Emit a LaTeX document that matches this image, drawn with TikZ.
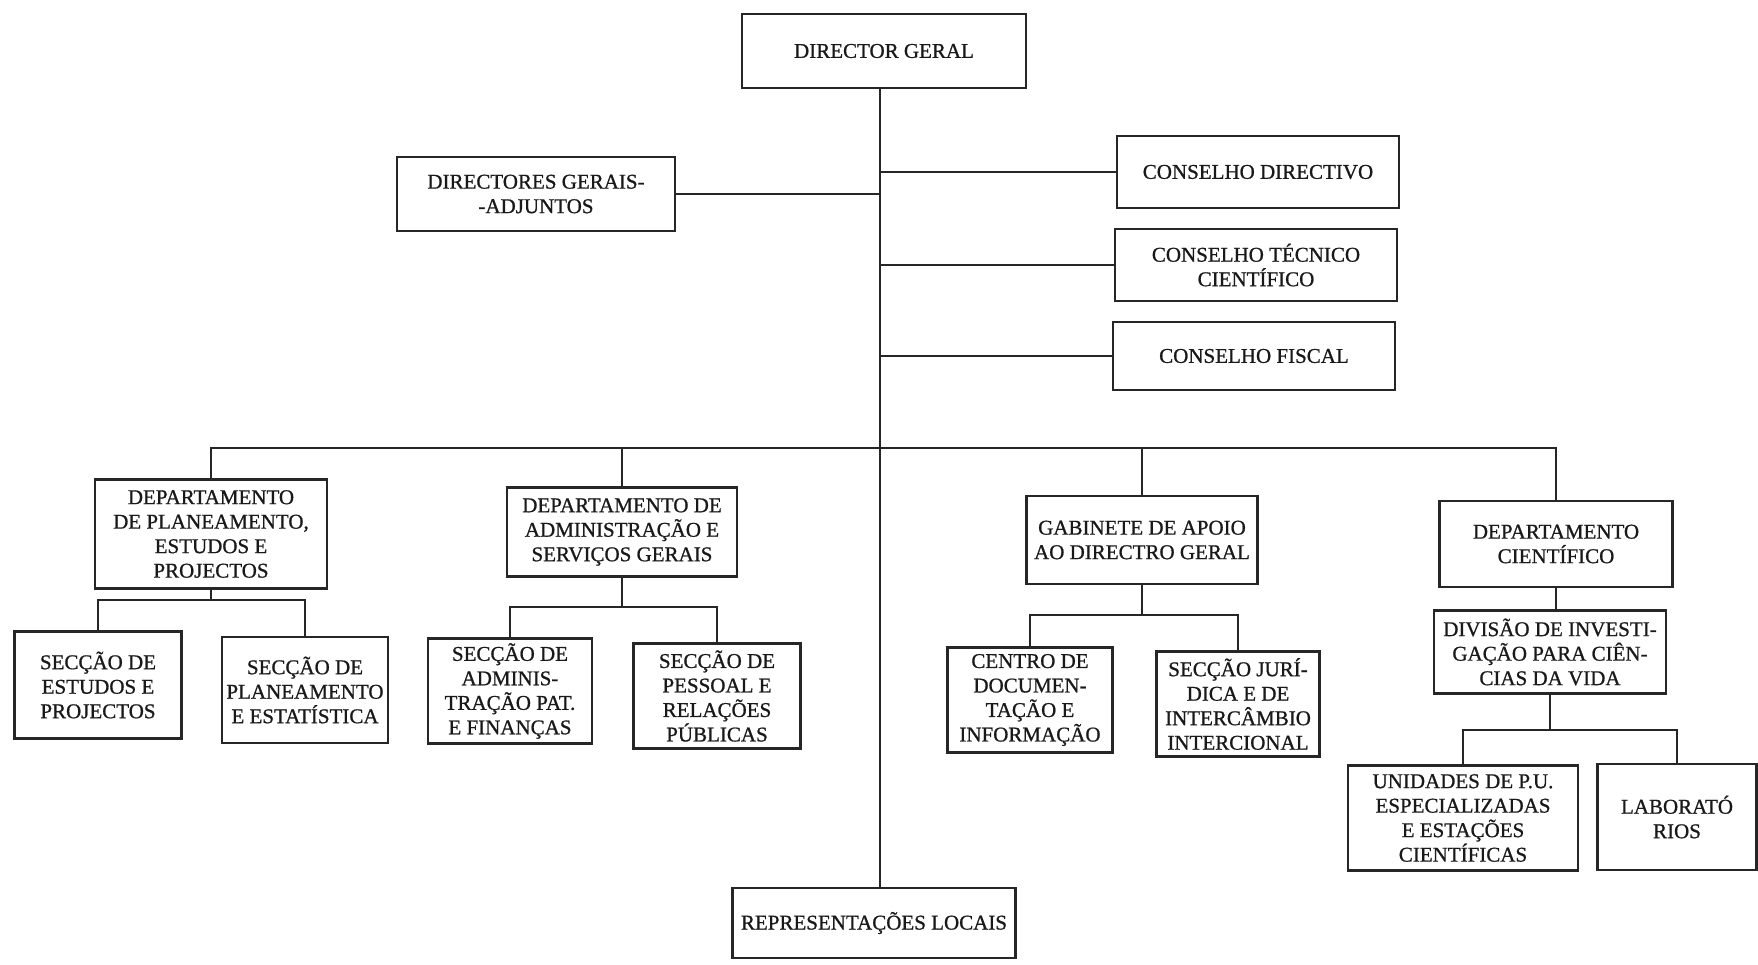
\documentclass[tikz,border=0pt]{standalone}
\usepackage{fontspec}
\setmainfont{Liberation Serif}
\newfontfamily\inkfont{Liberation Serif}[FakeBold=0.9]
\begin{document}
\begin{tikzpicture}[x=1pt,y=-1pt,
  box/.style={draw=black!85, line width=2.4pt, align=center, inner xsep=2pt, inner ysep=2pt,
    font=\inkfont\fontsize{21}{24.5}\selectfont, text=black!90},
  conn/.style={draw=black!85, line width=2.4pt}]
\useasboundingbox (0,0) rectangle (1758,965);
% top level
\node[box, minimum width=284, minimum height=74] (dg) at (884,51) {DIRECTOR GERAL};
\node[box, minimum width=278, minimum height=74] (dga) at (536,194) {DIRECTORES GERAIS-\\-ADJUNTOS};
\node[box, minimum width=282, minimum height=72] (cd) at (1258,172) {CONSELHO DIRECTIVO};
\node[box, minimum width=282, minimum height=72] (ctc) at (1256,265) {CONSELHO TÉCNICO\\CIENTÍFICO};
\node[box, minimum width=282, minimum height=68] (cf) at (1254,356) {CONSELHO FISCAL};
% departments
\node[box, minimum width=232, minimum height=109] (dpep) at (211,534) {DEPARTAMENTO\\DE PLANEAMENTO,\\ESTUDOS E\\PROJECTOS};
\node[box, minimum width=230, minimum height=89] (dasg) at (622,532) {DEPARTAMENTO DE\\ADMINISTRAÇÃO E\\SERVIÇOS GERAIS};
\node[box, minimum width=231, minimum height=88] (gab) at (1142,540) {GABINETE DE APOIO\\AO DIRECTRO GERAL};
\node[box, minimum width=233, minimum height=86] (dcien) at (1556,544) {DEPARTAMENTO\\CIENTÍFICO};
% sections
\node[box, minimum width=167, minimum height=107] (sep) at (98,685) {SECÇÃO DE\\ESTUDOS E\\PROJECTOS};
\node[box, minimum width=166, minimum height=106] (spe) at (305,690) {SECÇÃO DE\\PLANEAMENTO\\E ESTATÍSTICA};
\node[box, minimum width=164, minimum height=105] (sap) at (510,691) {SECÇÃO DE\\ADMINIS-\\TRAÇÃO PAT.\\E FINANÇAS};
\node[box, minimum width=167, minimum height=105] (spr) at (717,696) {SECÇÃO DE\\PESSOAL E\\RELAÇÕES\\PÚBLICAS};
\node[box, minimum width=165, minimum height=105] (cdi) at (1030,700) {CENTRO DE\\DOCUMEN-\\TAÇÃO E\\INFORMAÇÃO};
\node[box, minimum width=163, minimum height=105] (sji) at (1238,704) {SECÇÃO JURÍ-\\DICA E DE\\INTERCÂMBIO\\INTERCIONAL};
\node[box, minimum width=232, minimum height=83] (div) at (1550,652) {DIVISÃO DE INVESTI-\\GAÇÃO PARA CIÊN-\\CIAS DA VIDA};
\node[box, minimum width=230, minimum height=105] (unid) at (1463,818) {UNIDADES DE P.U.\\ESPECIALIZADAS\\E ESTAÇÕES\\CIENTÍFICAS};
\node[box, minimum width=159, minimum height=106] (lab) at (1677,817) {LABORATÓ\\RIOS};
\node[box, minimum width=283, minimum height=70] (rep) at (874,923) {REPRESENTAÇÕES LOCAIS};
% trunk and side branches
\coordinate (ttop) at (880,88);
\draw[conn] (ttop) -- (ttop |- rep.north);
\draw[conn] (dga.east) -- (dga.east -| ttop);
\draw[conn] (cd.west) -- (cd.west -| ttop);
\draw[conn] (ctc.west) -- (ctc.west -| ttop);
\draw[conn] (cf.west) -- (cf.west -| ttop);
% department bus
\coordinate (bus) at (880,448);
\draw[conn] (dpep.north) |- (bus) -| (dcien.north);
\draw[conn] (dasg.north) -- (dasg.north |- bus);
\draw[conn] (gab.north) -- (gab.north |- bus);
% brackets
\coordinate (b1) at (211,600);
\draw[conn] (dpep.south) -- (b1);
\draw[conn] (sep.north) |- (b1) -| (spe.north);
\coordinate (b2) at (622,607);
\draw[conn] (dasg.south) -- (b2);
\draw[conn] (sap.north) |- (b2) -| (spr.north);
\coordinate (b3) at (1142,615);
\draw[conn] (gab.south) -- (b3);
\draw[conn] (cdi.north) |- (b3) -| (sji.north);
\draw[conn] (dcien.south) -- (div.north -| dcien.south);
\coordinate (b4) at (1550,730);
\draw[conn] (div.south) -- (b4);
\draw[conn] (unid.north) |- (b4) -| (lab.north);
\end{tikzpicture}
\end{document}
